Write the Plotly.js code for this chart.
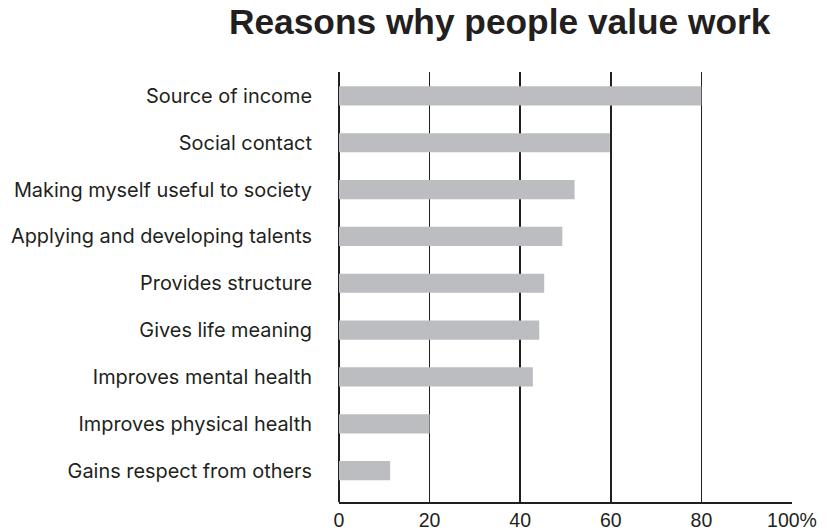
<!DOCTYPE html>
<html>
<head>
<meta charset="utf-8">
<script src="https://cdn.plot.ly/plotly-3.0.1.min.js"></script>
<style>html,body{margin:0;padding:0;background:#fff;}#chart{width:830px;height:531px;}</style>
</head>
<body>
<div id="chart"></div>
<script>
const reasons = [
  "Source of income",
  "Social contact",
  "Making myself useful to society",
  "Applying and developing talents",
  "Provides structure",
  "Gives life meaning",
  "Improves mental health",
  "Improves physical health",
  "Gains respect from others"
];
const percentages = [80, 59.8, 52, 49.3, 45.3, 44.2, 42.8, 20, 11.3];
const tickValues = [0, 20, 40, 60, 80, 100];
const tickLabels = ["0", "20", "40", "60", "80", "100%"];

const trace = {
  type: "bar",
  orientation: "h",
  x: percentages,
  y: reasons,
  width: 0.41,
  marker: {color: "#bcbdc0", line: {width: 0}},
  hoverinfo: "x+y"
};

const layout = {
  width: 830, height: 531,
  margin: {l: 339, r: 38, t: 72, b: 29, pad: 0},
  paper_bgcolor: "#ffffff",
  plot_bgcolor: "#ffffff",
  font: {family: "Inter, Liberation Sans, Arial, sans-serif", color: "#231f20", size: 18},
  title: {
    text: "<b>Reasons why people value work</b>",
    font: {family: "Liberation Sans, Arial, sans-serif", size: 35.3, color: "#231f20"},
    x: 0.602, xanchor: "center", xref: "container",
    y: 0.96, yanchor: "middle", yref: "container"
  },
  xaxis: {
    range: [0, 100],
    tickvals: tickValues,
    ticktext: tickLabels,
    showgrid: true, gridcolor: "#231f20", gridwidth: 1.5,
    zeroline: true, zerolinecolor: "#231f20", zerolinewidth: 1.5,
    showline: true, linecolor: "#231f20", linewidth: 1.5,
    ticks: "", tickfont: {family: "Liberation Sans, Arial, sans-serif", size: 19.5, color: "#231f20"},
    fixedrange: true
  },
  yaxis: {
    type: "category",
    categoryorder: "array",
    categoryarray: reasons,
    range: [8.67, -0.51],
    showgrid: false, zeroline: false, showline: false,
    ticks: "", ticklabelstandoff: 26,
    tickfont: {size: 19.9, color: "#231f20"},
    fixedrange: true
  },
  showlegend: false,
  bargap: 0.59
};

Plotly.newPlot("chart", [trace], layout, {displayModeBar: false, staticPlot: true});
</script>
</body>
</html>
